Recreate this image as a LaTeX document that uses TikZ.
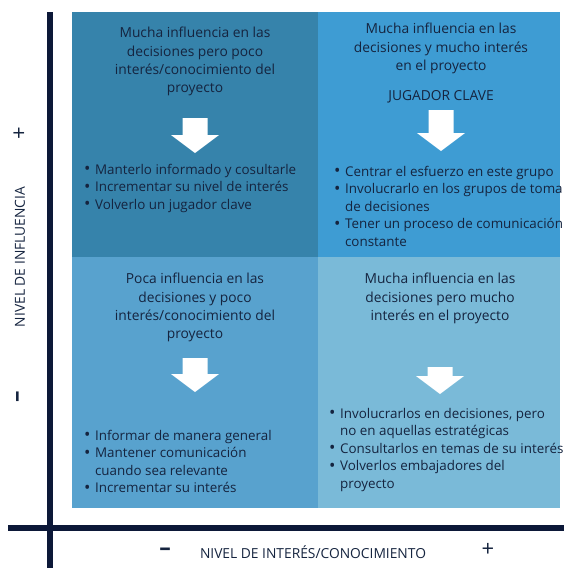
\documentclass[tikz,border=0pt]{standalone}
\usepackage{fontspec}
\setmainfont{Open Sans}

\definecolor{axisnavy}{HTML}{0C1838}
\definecolor{textnavy}{HTML}{15243F}
\definecolor{quadTL}{HTML}{3683AB}
\definecolor{quadTR}{HTML}{3E9CD3}
\definecolor{quadBL}{HTML}{58A2CE}
\definecolor{quadBR}{HTML}{7ABAD8}

% larger list bullet
\newcommand{\bul}{\raisebox{-0.6pt}{\fontsize{17}{17}\selectfont\textbullet}}

\tikzset{
  quad/.style={inner sep=0pt, anchor=north west},
  title/.style={inner sep=0pt, anchor=north, align=center, text=textnavy,
    font=\fontsize{13.8}{18.3}\selectfont},
  bullets/.style={inner sep=0pt, anchor=base west, text=textnavy,
    font=\fontsize{13.4}{17.5}\selectfont},
  axislabel/.style={inner sep=0pt, text=textnavy,
    font=\fontsize{13.8}{14}\selectfont},
  sign/.style={axislabel, font=\fontsize{22}{22}\selectfont},
  minus/.style={axislabel, font=\fontsize{23}{23}\selectfont\bfseries},
  axis/.style={line width=6pt, axisnavy},
  % white block arrow, #1 = shaft length
  pics/downarrow/.style={code={
    \fill[white] (-12.5,0) -- (12.5,0) -- (12.5,#1) -- (24,#1)
      -- (0,{#1+18}) -- (-24,#1) -- (-12.5,#1) -- cycle;
  }}
}

\begin{document}
\begin{tikzpicture}[x=1pt, y=-1pt]

        % Canvas
        \useasboundingbox (0,0) rectangle (564,568);

        % Quadrants
        \node[quad, fill=quadTL, minimum width=246pt, minimum height=245pt] (q1) at (72,12) {};
        \node[quad, fill=quadTR, minimum width=242pt, minimum height=245pt] (q2) at (318,12) {};
        \node[quad, fill=quadBL, minimum width=246pt, minimum height=251pt] (q3) at (72,257) {};
        \node[quad, fill=quadBR, minimum width=242pt, minimum height=251pt] (q4) at (318,257) {};

        % Axes
        \coordinate (vtop) at (49.5,12);
        \coordinate (vbot) at (49.5,568);
        \coordinate (hleft) at (8,528);
        \coordinate (hright) at (564,528);
        \draw[axis] (vtop) -- (vbot);
        \draw[axis] (hleft) -- (hright);

        % Top left
        \node[title] (t1) at (195,27) {Mucha influencia en las\\decisiones pero poco\\inter\'es/conocimiento del\\proyecto};
        \pic (a1) at (195,118) {downarrow=17};
        \node[bullets] (b1) at (84,174) {\begin{tabular}[t]{@{}l@{\hspace{4.5pt}}l@{}}
          \bul & Manterlo informado y cosultarle\\
          \bul & Incrementar su nivel de inter\'es\\
          \bul & Volverlo un jugador clave
        \end{tabular}};

        % Top right
        \node[title] (t2) at (441,23) {Mucha influencia en las\\decisiones y mucho inter\'es\\en el proyecto};
        \node[title] (k2) at (441,90) {JUGADOR CLAVE};
        \pic (a2) at (441,110) {downarrow=23};
        \node[bullets] (b2) at (334,176) {\begin{tabular}[t]{@{}l@{\hspace{4.5pt}}l@{}}
          \bul & Centrar el esfuerzo en este grupo\\
          \bul & Involucrarlo en los grupos de toma\\
               & de decisiones\\
          \bul & Tener un proceso de comunicaci\'on\\
               & constante
        \end{tabular}};

        % Bottom left
        \node[title] (t3) at (195,273) {Poca influencia en las\\decisiones y poco\\inter\'es/conocimiento del\\proyecto};
        \pic (a3) at (195,358) {downarrow=16};
        \node[bullets] (b3) at (84,440) {\begin{tabular}[t]{@{}l@{\hspace{4.5pt}}l@{}}
          \bul & Informar de manera general\\
          \bul & Mantener comunicaci\'on\\
               & cuando sea relevante\\
          \bul & Incrementar su inter\'es
        \end{tabular}};

        % Bottom right
        \node[title] (t4) at (440,273) {Mucha influencia en las\\decisiones pero mucho\\inter\'es en el proyecto};
        \pic (a4) at (440,367) {downarrow=9};
        \node[bullets] (b4) at (329,418) {\begin{tabular}[t]{@{}l@{\hspace{4.5pt}}l@{}}
          \bul & Involucrarlos en decisiones, pero\\
               & no en aquellas estrat\'egicas\\
          \bul & Consultarlos en temas de su inter\'es\\
          \bul & Volverlos embajadores del\\
               & proyecto
        \end{tabular}};

        % Axis labels
        \node[sign, rotate=90] (yplus) at (20,133) {+};
        \node[axislabel, rotate=90] (ylabel) at (20,257) {NIVEL DE INFLUENCIA};
        \node[minus, rotate=90] (yminus) at (20,397) {–};
        \node[minus] (xminus) at (165,552) {–};
        \node[axislabel] (xlabel) at (313,552) {NIVEL DE INTER\'ES/CONOCIMIENTO};
        \node[sign] (xplus) at (488,550) {+};

\end{tikzpicture}
\end{document}
